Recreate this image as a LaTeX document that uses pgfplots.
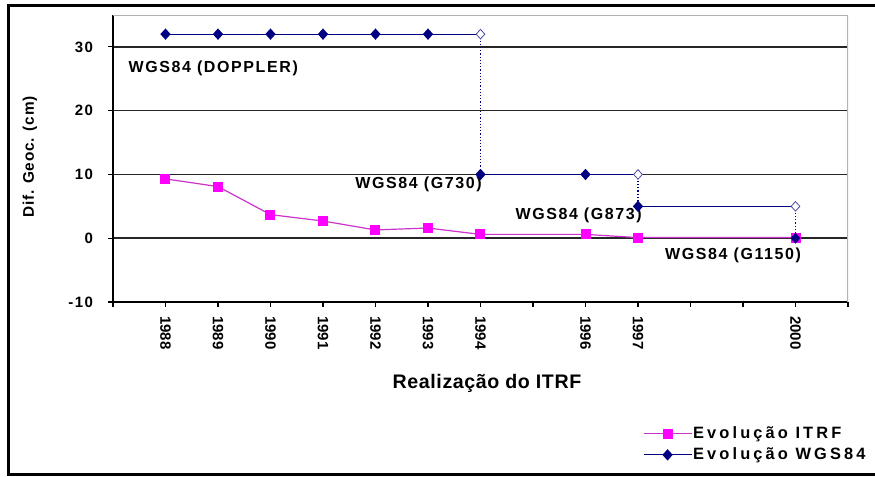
\documentclass[border=0pt]{standalone}
\usepackage{fontspec}
\setmainfont{Liberation Sans}
\usepackage{pgfplots}
\pgfplotsset{compat=1.18}
\definecolor{navy}{HTML}{000080}
\definecolor{mag}{HTML}{FF00FF}
\definecolor{magline}{HTML}{CC33CC}
\newcommand\fs[2]{\bfseries\fontsize{#1}{#1}\selectfont\addfontfeatures{LetterSpace=#2}}
\begin{document}
\begin{tikzpicture}
\useasboundingbox (0,0) rectangle (437.5pt,238.5pt);
\draw[line width=1.5pt] (437.5pt,235.75pt) -- (4.25pt,235.75pt) -- (4.25pt,1pt) -- (437.5pt,1pt);
\begin{axis}[
  at={(56.5pt,87.5pt)}, anchor=south west,
  scale only axis, width=367.5pt, height=143.5pt,
  xmin=1987, xmax=2001, ymin=-10, ymax=35,
  axis x line*=bottom, axis y line*=left,
  xtick={1987,...,2001},
  xticklabels={,1988,1989,1990,1991,1992,1993,1994,,1996,1997,,,2000,},
  ytick={-10,0,10,20,30},
  ymajorgrids, grid style={black!85, line width=0.8pt},
  tick align=outside, major tick length=2.5pt,
  tick style={black, line width=0.6pt},
  axis line style={black, line width=1pt},
  /pgf/number format/assume math mode=true,
  xticklabel style={rotate=-90, anchor=west, font=\fs{7.5}{0}, xshift=1pt},
  yticklabel style={font=\fs{7.5}{10}, xshift=-4pt},
  legend style={at={(0.7205,-0.42)}, anchor=north west, draw=none, fill=none,
    font=\fs{8.2}{19}, row sep=0pt, cells={anchor=west}, inner sep=0pt,
    nodes={inner xsep=0.5pt, inner ysep=1.6pt}},
  legend image code/.code={\draw[#1] (0pt,0pt) -- (24pt,0pt); \draw[#1] plot coordinates {(12pt,0pt)};},
]
\addplot[magline, line width=0.6pt, mark=square*, mark size=2.2pt, mark options={fill=mag, draw=mag, solid}]
  coordinates {(1988,9.3) (1989,8.1) (1990,3.7) (1991,2.7) (1992,1.3) (1993,1.6) (1994,0.6) (1996,0.6) (1997,0.1) (2000,0.1)};
\addlegendentry{Evolução ITRF}
\addplot[navy, line width=0.6pt, mark=diamond*, mark size=2.4pt, mark options={fill=navy, solid, xscale=1.2}, mark indices={1,2,3,4,5,6}]
  coordinates {(1988,32) (1989,32) (1990,32) (1991,32) (1992,32) (1993,32) (1994,32)};
\addlegendentry{Evolução WGS84}
\addplot[navy, line width=0.6pt, mark=diamond*, mark size=2.4pt, mark options={fill=navy, solid, xscale=1.2}, mark indices={1,2}, forget plot]
  coordinates {(1994,10) (1996,10) (1997,10)};
\addplot[navy, line width=0.6pt, mark=diamond*, mark size=2.4pt, mark options={fill=navy, solid, xscale=1.2}, mark indices={1}, forget plot]
  coordinates {(1997,5) (2000,5)};
\addplot[navy, densely dotted, line width=0.6pt, forget plot] coordinates {(1994,32) (1994,10)};
\addplot[navy, densely dotted, line width=0.6pt, forget plot] coordinates {(1997,10) (1997,5)};
\addplot[navy, densely dotted, line width=0.6pt, forget plot] coordinates {(2000,5) (2000,0)};
\addplot[only marks, mark=diamond*, mark size=2.4pt, mark options={fill=navy, draw=navy, xscale=1.2}, forget plot]
  coordinates {(2000,0)};
\addplot[only marks, mark=diamond*, mark size=2.4pt, mark options={fill=white, draw=navy!70, xscale=1.2}, forget plot]
  coordinates {(1994,32) (1997,10) (2000,5)};
\draw[gray!60, line width=0.75pt] (rel axis cs:0,1) -- (rel axis cs:1,1) -- (rel axis cs:1,0);
\node[anchor=west, inner sep=0pt, font=\fs{8}{10}] at (axis cs:1987.29,26.6) {WGS84 (DOPPLER)};
\node[anchor=west, inner sep=0pt, font=\fs{8}{10}] at (axis cs:1991.61,8.5) {WGS84 (G730)};
\node[anchor=west, inner sep=0pt, font=\fs{8}{10}] at (axis cs:1994.66,3.6) {WGS84 (G873)};
\node[anchor=west, inner sep=0pt, font=\fs{8}{10}] at (axis cs:1997.51,-2.7) {WGS84 (G1150)};
\end{axis}
\node[rotate=90, font=\fs{7.7}{5}] at (15pt,160pt) {Dif. Geoc. (cm)};
\node[font=\fs{9.8}{3}] at (243.5pt,47pt) {Realização do ITRF};
\end{tikzpicture}
\end{document}
